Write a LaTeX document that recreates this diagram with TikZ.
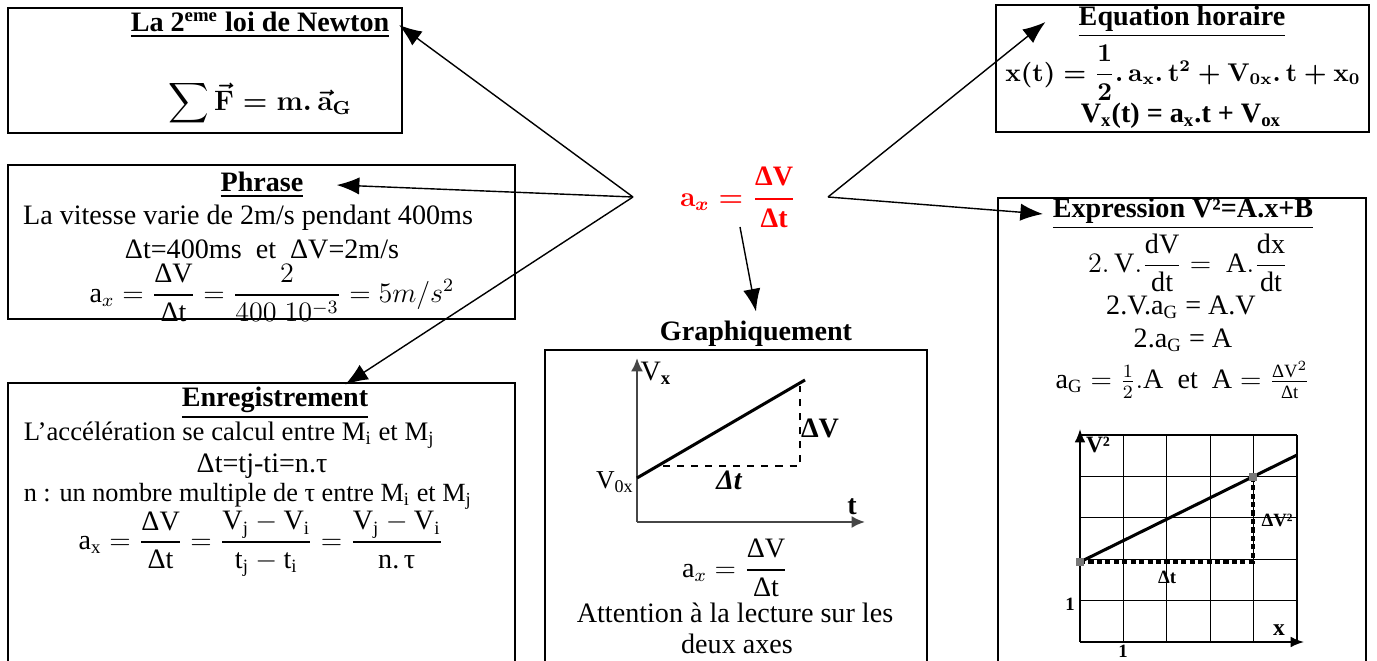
\documentclass[tikz,border=0pt]{standalone}
\usepackage{amsmath,amssymb}
\usepackage{fontspec}
\setmainfont{Liberation Serif}
\usetikzlibrary{arrows.meta,positioning}
\definecolor{AccelRed}{RGB}{255,0,0}
\definecolor{PointGray}{RGB}{120,120,120}
\definecolor{AxisGray}{RGB}{70,70,70}
\newcommand{\titre}[1]{\textbf{\underline{#1}}}
\newcommand{\tx}[1]{\text{#1}}
\newcommand{\fleV}[1]{\vec{\mathbf{#1}}}
\tikzset{
  cadre/.style={line width=0.9pt},
  fleche/.style={-{Latex[length=3.4mm,width=2.6mm]},line width=0.6pt},
  petit/.style={font=\bfseries\fontsize{8}{9}\selectfont,inner sep=1pt},
  ligne/.style={inner sep=1pt},
}
\begin{document}
\fontsize{12}{14}\selectfont
\begin{tikzpicture}[x=0.4267pt,y=-0.4267pt]
  \useasboundingbox (0,0) rectangle (1377,661);
  % cadres
  \draw[cadre] (8,8) rectangle (402,133);
  \draw[cadre] (996,5) rectangle (1369,132);
  \draw[cadre] (8,165) rectangle (515,319);
  \draw[cadre] (8,680) |- (515,383) -- (515,680);
  \draw[cadre] (545,680) |- (927,350) -- (927,680);
  \draw[cadre] (998,680) |- (1366,198) -- (1366,680);

  % centre
  \node[text=AccelRed,font=\bfseries\boldmath] (accel) at (738,197)
    {$\mathbf{a}_{x} = \dfrac{\tx{ΔV}}{\tx{Δt}}$};
  \coordinate (hubG) at (633,197);
  \coordinate (hubD) at (828,197);
  \coordinate (hubB) at (740,227);

  % Newton
  \node (tNewton) at (260,25) {\titre{La 2\textsuperscript{eme} loi de Newton}};
  \node[font=\boldmath] (fNewton) at (260,103)
    {$\displaystyle\sum \fleV{F} = \mathbf{m}.\,\fleV{a}_{\mathbf{G}}$};

  % Phrase
  \node (tPhrase) at (262,185) {\titre{Phrase}};
  \node[ligne] (lPhrase1) at (248,218) {La vitesse varie de 2m/s pendant 400ms};
  \node[ligne] (lPhrase2) at (262,249) {Δt=400ms\ \ et\ \ ΔV=2m/s};
  \node[ligne] (fPhrase) at (272,293)
    {$\tx{a}_x = \dfrac{\tx{ΔV}}{\tx{Δt}} = \dfrac{2}{400\;10^{-3}} = 5m/s^2$};

  % Enregistrement
  \node (tEnreg) at (275,403) {\titre{Enregistrement}};
  \node[ligne,anchor=west,font=\fontsize{11.4}{13}\selectfont] (lEnreg1) at (21,435)
    {L’accélération se calcul entre M\textsubscript{i} et M\textsubscript{j}};
  \node[ligne] (lEnreg2) at (262,466) {Δt=tj-ti=n.τ};
  \node[ligne,anchor=west,font=\fontsize{11.2}{13}\selectfont] (lEnreg3) at (21,496)
    {n : un nombre multiple de τ entre M\textsubscript{i} et M\textsubscript{j}};
  \node[ligne] (fEnreg) at (261,544)
    {$\tx{a}_\tx{x} = \dfrac{\tx{ΔV}}{\tx{Δt}}
      = \dfrac{\tx{V}_\tx{j} - \tx{V}_\tx{i}}{\tx{t}_\tx{j} - \tx{t}_\tx{i}}
      = \dfrac{\tx{V}_\tx{j} - \tx{V}_\tx{i}}{\tx{n.}\,\tx{τ}}$};

  % Graphiquement
  \node (tGraph) at (756,337) {\titre{Graphiquement}};
  \draw[AxisGray,line width=1pt,-{Latex[length=2mm,width=1.8mm]}] (637,522) -- (637,358);
  \draw[AxisGray,line width=1pt,-{Latex[length=2mm,width=1.8mm]}] (637,522) -- (865,522);
  \draw[line width=1.3pt] (637,478) -- (805,380);
  \draw[dashed,line width=0.6pt] (663,466) -- (800,466) -- (800,386);
  \node[ligne] (gVx) at (656,373) {V$_{\mathbf{x}}$};
  \node[ligne,font=\bfseries] (gDV) at (820,428) {ΔV};
  \node[ligne,font=\fontsize{11}{12}\selectfont] (gV0) at (615,482) {V\textsubscript{0x}};
  \node[ligne,font=\bfseries\itshape] (gDt) at (729,480) {Δt};
  \node[ligne,font=\bfseries] (gt) at (852,507) {t};
  \node[ligne] (fGraph) at (735,568) {$\tx{a}_x = \dfrac{\tx{ΔV}}{\tx{Δt}}$};
  \node[ligne] (lGraph1) at (735,613) {Attention à la lecture sur les};
  \node[ligne] (lGraph2) at (737,644) {deux axes};

  % Equation horaire
  \node (tEqua) at (1182,22) {\titre{Equation horaire}};
  \node[ligne,font=\bfseries\boldmath\fontsize{10.5}{12}\selectfont] (fEqua1) at (1183,73)
    {$\mathbf{x(t)} = \dfrac{1}{2}.\,\mathbf{a_x}.\,\mathbf{t}^2 + \mathbf{V_{0x}}.\,\mathbf{t} + \mathbf{x_0}$};
  \node[ligne,font=\bfseries] (fEqua2) at (1181,116)
    {V\textsubscript{x}(t) = a\textsubscript{x}.t + V\textsubscript{ox}};

  % Expression V2
  \node (tExpr) at (1183,214) {\titre{Expression V²=A.x+B}};
  \node[ligne] (lExpr1) at (1188,263)
    {$2.\,\tx{V}.\dfrac{\tx{dV}}{\tx{dt}} =\ \tx{A}.\dfrac{\tx{dx}}{\tx{dt}}$};
  \node[ligne] (lExpr2) at (1181,307) {2.V.a\textsubscript{G} = A.V};
  \node[ligne] (lExpr3) at (1183,340) {2.a\textsubscript{G} = A};
  \node[ligne] (lExpr4) at (1183,380)
    {$\tx{a}_\tx{G} = \frac{1}{2}.\tx{A}$\ \ et\ \ $\tx{A} = \frac{\tx{ΔV}^2}{\tx{Δt}}$};

  % grille V2 = f(x)
  \foreach \i in {0,...,5} {
    \draw[line width=0.5pt] (1080+43.4*\i,435) -- (1080+43.4*\i,642);
    \draw[line width=0.5pt] (1080,435+41.4*\i) -- (1297,435+41.4*\i);
  }
  \draw[line width=0.7pt,-{Latex[length=2mm,width=1.6mm]}] (1080,642) -- (1080,429);
  \draw[line width=0.7pt,-{Latex[length=2mm,width=1.6mm]}] (1080,642) -- (1304,642);
  \draw[line width=1.3pt] (1080,562) -- (1297,455);
  \draw[line width=1.3pt,dash pattern=on 2.2pt off 1.4pt] (1080,562) -- (1253,562) -- (1253,477);
  \fill[PointGray] (1076,558) rectangle (1084,566);
  \fill[PointGray] (1249,473) rectangle (1257,481);
  \node[font=\bfseries\fontsize{10}{11}\selectfont,inner sep=1pt] (gV2) at (1098,445) {V²};
  \node[petit] (gDV2) at (1277,520) {ΔV²};
  \node[petit] (gDx) at (1167,577) {Δt};
  \node[petit] (gUn1) at (1070,604) {1};
  \node[petit] (gUn2) at (1123,651) {1};
  \node[font=\bfseries\fontsize{10}{11}\selectfont,inner sep=1pt] (gx) at (1279,630) {x};

  % fleches
  \draw[fleche] (hubG) -- (tNewton.east);
  \draw[fleche] (hubG) -- ([xshift=10pt]tPhrase.east);
  \draw[fleche] (hubG) -- ([xshift=-14pt,yshift=-3pt]tEnreg.north east);
  \draw[fleche] (hubD) -- ([xshift=-10pt]tEqua.west);
  \draw[fleche] (hubD) -- (tExpr.west);
  \draw[fleche] (hubB) -- (tGraph.north);
\end{tikzpicture}
\end{document}
